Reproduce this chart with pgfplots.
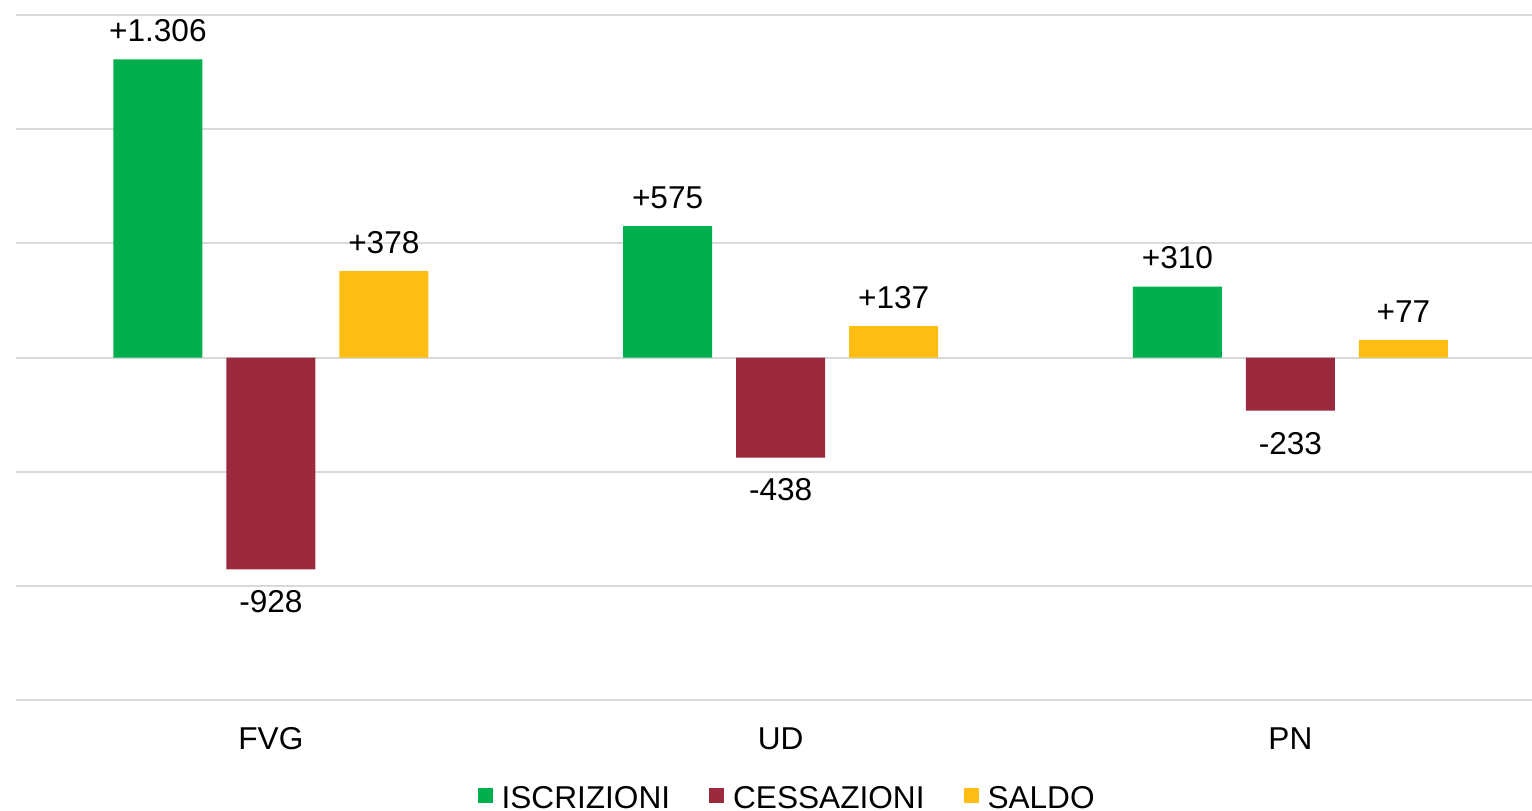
\documentclass[border=0pt]{standalone}
\usepackage{pgfplots}
\pgfplotsset{compat=1.18}
\usepackage{fontspec}
\setmainfont{Liberation Sans}
\definecolor{cgreen}{HTML}{00AF4E}
\definecolor{cred}{HTML}{9B2A3F}
\definecolor{cyel}{HTML}{FDBD13}
\definecolor{cgrid}{HTML}{D9D9D9}
\newcommand{\lblfont}{\fontsize{15.8}{18}\selectfont}
\begin{document}
\begin{tikzpicture}
\useasboundingbox (0,0) rectangle (766pt,405pt);
\begin{axis}[at={(8pt,55pt)}, anchor=south west, scale only axis,
  width=758pt, height=342.5pt,
  xmin=-0.5, xmax=2.474, ymin=-1500, ymax=1500,
  ybar=12pt, bar width=44.5pt,
  ytick={-1500,-1000,...,1500}, yticklabels={},
  ymajorgrids, grid style={cgrid, line width=1pt},
  xtick={0,1,2}, xticklabels={FVG,UD,PN}, major tick length=0pt,
  axis line style={draw=none},
  xticklabel style={anchor=base, yshift=-24.5pt, inner sep=0pt, font=\lblfont},
  point meta=explicit symbolic,
  nodes near coords,
  every node near coord/.append style={inner sep=8.7pt, font=\lblfont, text=black},
  legend columns=-1,
  legend style={draw=none, fill=none, inner sep=0pt, font=\lblfont,
    at={(rel axis cs:0.508,0)}, anchor=north, yshift=-43pt,
    nodes={inner sep=0pt},
    /tikz/every odd column/.append style={column sep=4.5pt},
    /tikz/every even column/.append style={column sep=19.5pt}},
  legend image code/.code={\fill[#1] (0pt,-2pt) rectangle (7.5pt,5.5pt);},
]
\addplot[fill=cgreen, draw=none] coordinates {(0,1306) [+1.306] (1,575) [+575] (2,310) [+310]};
\addplot[fill=cred, draw=none, every node near coord/.append style={anchor=north, inner sep=10.5pt}] coordinates {(0,-928) [-928] (1,-438) [-438] (2,-233) [-233]};
\addplot[fill=cyel, draw=none] coordinates {(0,378) [+378] (1,137) [+137] (2,77) [+77]};
\legend{ISCRIZIONI,CESSAZIONI,SALDO}
\end{axis}
\end{tikzpicture}
\end{document}
